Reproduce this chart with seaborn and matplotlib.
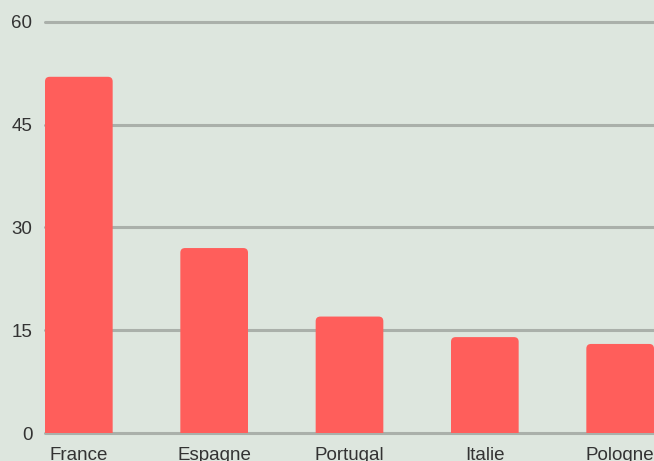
import matplotlib
matplotlib.use("Agg")
import matplotlib.pyplot as plt
import seaborn as sns
from matplotlib.patches import FancyBboxPatch

# data
pays = ["France", "Espagne", "Portugal", "Italie", "Pologne"]
valeurs = [52, 27, 17, 14, 13]
yticks = [0, 15, 30, 45, 60]

bg = "#dde6de"
bar_color = "#ff5e5b"
grid_color = "#aab0aa"
text_color = "#333333"

sns.set_style("white")
plt.rcParams['font.family'] = ['Liberation Sans', 'DejaVu Sans']

fig = plt.figure(figsize=(6.54, 4.61), dpi=100, facecolor=bg)
ax = fig.add_axes([45 / 654, 28 / 461, 609 / 654, 411 / 461])
ax.set_facecolor(bg)

sns.barplot(x=pays, y=valeurs, color=bar_color, saturation=1, width=0.5, ax=ax)

# replace bars by rounded ones (bottom pushed below 0, clipped by axes)
bars = list(ax.patches)
for p in bars:
    x0, w, h = p.get_x(), p.get_width(), p.get_height()
    p.remove()
    rb = FancyBboxPatch((x0, -2), w, h + 2,
                        boxstyle="round,pad=0,rounding_size=0.035",
                        mutation_aspect=19.5, facecolor=bar_color,
                        edgecolor="none", zorder=2)
    ax.add_patch(rb)

ax.set_xlim(-0.25, 4.25)
ax.set_ylim(0, 60)
ax.set_yticks(yticks)
ax.set_axisbelow(True)
ax.yaxis.grid(True, color=grid_color, linewidth=2.2)
for gl in ax.get_ygridlines():
    gl.set_clip_on(False)
    gl.set_zorder(1)
ax.xaxis.grid(False)
for s in ax.spines.values():
    s.set_visible(False)
ax.tick_params(axis="both", length=0, labelsize=13.5, labelcolor=text_color)
ax.tick_params(axis="y", pad=9)
ax.tick_params(axis="x", pad=10)
ax.set_xlabel("")
ax.set_ylabel("")

fig.savefig("out.png", dpi=100, facecolor=bg)
